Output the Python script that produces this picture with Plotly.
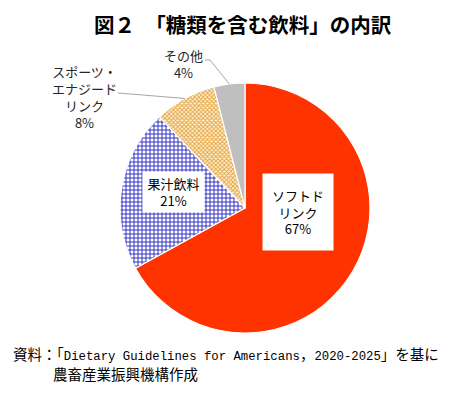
import math
import re
import plotly.graph_objects as go

# ---- data ----
categories = ["ソフトドリンク", "果汁飲料", "スポーツ・エナジードリンク", "その他"]
label_texts = ["ソフトド<br>リンク", "果汁飲料", "スポーツ・<br>エナジード<br>リンク", "その他"]
shares = [67, 21, 8, 4]
title_text = "図２　「糖類を含む飲料」の内訳"
source_line1 = "資料：「Dietary Guidelines for Americans，2020-2025」を基に"
source_line2 = "農畜産業振興機構作成"

W, H = 455, 395
OFF = 8  # page body margin offset of the rendered figure
CX, CY, R = 245, 208, 125  # pie centre / radius in window pixels


def px(x):
    return (x - OFF) / W


def py(y):
    return 1 - (y - OFF) / H


FONT = "Noto Sans CJK JP"
MONO = "Liberation Mono"


def mixed(text, mono_size):
    # wrap ASCII runs in a monospace span, CJK runs stay in the CJK font
    parts = re.split(r"([\x20-\x7e]+)", text)
    out = []
    for p in parts:
        if not p:
            continue
        if re.fullmatch(r"[\x20-\x7e]+", p):
            out.append(f"<span style='font-family:{MONO};font-size:{mono_size}px'>{p}</span>")
        else:
            out.append(p)
    return "".join(out)


fig = go.Figure(
    go.Pie(
        labels=categories,
        values=shares,
        sort=False,
        direction="clockwise",
        rotation=0,
        textinfo="none",
        hoverinfo="label+percent",
        domain=dict(x=[px(CX - R), px(CX + R)], y=[py(CY + R), py(CY - R)]),
        marker=dict(
            colors=["#FF3300", "#FFFFFF", "#FFF2D0", "#BFBFBF"],
            line=dict(color="#FFFFFF", width=1.2),
            pattern=dict(
                shape=["", "+", "x", ""],
                fgcolor=["#FF3300", "#3434C4", "#E4A040", "#BFBFBF"],
                bgcolor=["#FF3300", "#FFFFFF", "#FFF2D0", "#BFBFBF"],
                fgopacity=1,
                size=[4, 4, 3, 4],
                solidity=[0.3, 0.44, 0.5, 0.3],
                fillmode="overlay",
            ),
        ),
        showlegend=False,
    )
)

# mid-angle edge points (for leader lines) computed from the data
total = sum(shares)
cum = 0
edge_pts = []
for v in shares:
    mid = (cum + v / 2) / total * 2 * math.pi
    edge_pts.append((CX + R * math.sin(mid), CY - R * math.cos(mid)))
    cum += v

base = dict(xref="paper", yref="paper", xanchor="center", yanchor="middle", showarrow=False)
ann = []
# inside labels with white boxes
ann.append(dict(base, x=px(297.5), y=py(211.5),
                text=f"{label_texts[0]}<br>{shares[0]}%",
                bgcolor="white", width=68, height=74,
                font=dict(family=FONT, size=13, color="black")))
ann.append(dict(base, x=px(173.5), y=py(191.5),
                text=f"{label_texts[1]}<br>{shares[1]}%",
                bgcolor="white", width=59, height=38,
                font=dict(family=FONT, size=13, color="black")))
# outside labels
ann.append(dict(base, x=px(84), y=py(97), align="center",
                text=f"{label_texts[2]}<br>{shares[2]}%",
                font=dict(family=FONT, size=13, color="#262626")))
ann.append(dict(base, x=px(183), y=py(64), align="center",
                text=f"{label_texts[3]}<br>{shares[3]}%",
                font=dict(family=FONT, size=13, color="#262626")))
# title
ann.append(dict(base, x=px(243), y=py(24),
                text=f"<b>{title_text}</b>",
                font=dict(family=FONT, size=20.5, color="black")))
# source
ann.append(dict(base, x=px(11), y=py(353), xanchor="left",
                text=mixed(source_line1, 12.3),
                font=dict(family=FONT, size=14.5, color="black")))
ann.append(dict(base, x=px(51), y=py(373), xanchor="left",
                text=source_line2,
                font=dict(family=FONT, size=14.5, color="black")))

shapes = []
ex, ey = edge_pts[3]
shapes.append(dict(type="path", xref="paper", yref="paper",
                   path=f"M {px(205)},{py(60)} L {px(210)},{py(60)} L {px(ex)},{py(ey)}",
                   line=dict(color="#A6A6A6", width=1)))
ex, ey = edge_pts[2]
shapes.append(dict(type="path", xref="paper", yref="paper",
                   path=f"M {px(118)},{py(93)} L {px(ex)},{py(ey)}",
                   line=dict(color="#A6A6A6", width=1)))

fig.update_layout(
    width=W, height=H,
    margin=dict(l=0, r=0, t=0, b=0),
    paper_bgcolor="white",
    plot_bgcolor="white",
    annotations=ann,
    shapes=shapes,
)

fig.write_html("out.html")
